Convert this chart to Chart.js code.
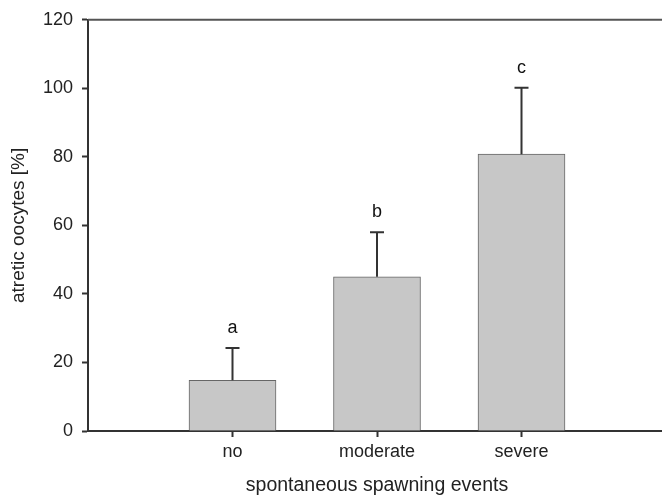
<!DOCTYPE html>
<html>
<head>
<meta charset="utf-8">
<script src="https://cdn.jsdelivr.net/npm/chart.js@4"></script>
<style>
html, body { margin: 0; padding: 0; background: #fff; overflow: hidden; }
#wrap { width: 662px; height: 498px; overflow: hidden; }
#chart { width: 666px; height: 498px; }
</style>
</head>
<body>
<div id="wrap"><canvas id="chart" width="666" height="498"></canvas></div>
<script>
const categories = ['no', 'moderate', 'severe'];
const means = [14.8, 45.0, 80.8];
const upperErrors = [24.2, 58.0, 100.2];
const letters = ['a', 'b', 'c'];
const yMax = 120;
const yStep = 20;

const FONT = 'Arial, "Liberation Sans", sans-serif';

// upper error bars and significance letters
const errorBarPlugin = {
  id: 'errorBars',
  afterDatasetsDraw(chart) {
    const ctx = chart.ctx;
    const x = chart.scales.x;
    const y = chart.scales.y;
    ctx.save();
    ctx.strokeStyle = '#333';
    ctx.lineWidth = 2;
    categories.forEach((c, i) => {
      const px = x.getPixelForValue(i + 1);
      const top = y.getPixelForValue(means[i]);
      const up = y.getPixelForValue(upperErrors[i]);
      ctx.beginPath();
      ctx.moveTo(px, top);
      ctx.lineTo(px, up);
      ctx.moveTo(px - 7, up);
      ctx.lineTo(px + 7, up);
      ctx.stroke();
      ctx.fillStyle = '#111';
      ctx.font = '18px ' + FONT;
      ctx.textAlign = 'center';
      ctx.textBaseline = 'middle';
      ctx.fillText(letters[i], px, up - 20);
    });
    // top frame line
    const a = chart.chartArea;
    ctx.strokeStyle = '#555';
    ctx.beginPath();
    ctx.moveTo(a.left, a.top);
    ctx.lineTo(a.right, a.top);
    ctx.stroke();
    ctx.restore();
  }
};

new Chart(document.getElementById('chart').getContext('2d'), {
  type: 'bar',
  data: {
    datasets: [{
      data: means.map((v, i) => ({ x: i + 1, y: v })),
      backgroundColor: '#c7c7c7',
      borderColor: '#666',
      borderWidth: 1,
      barThickness: 87
    }]
  },
  options: {
    responsive: false,
    animation: false,
    layout: { padding: { top: 15, right: 0, left: 0, bottom: 0 } },
    plugins: { legend: { display: false }, tooltip: { enabled: false } },
    scales: {
      x: {
        type: 'linear',
        min: 0,
        max: 4,
        offset: false,
        afterFit: s => { s.height = 67; },
        afterBuildTicks: s => { s.ticks = categories.map((c, i) => ({ value: i + 1 })); },
        ticks: {
          color: '#222',
          padding: 4,
          font: { size: 18, family: FONT },
          callback: v => categories[v - 1] || ''
        },
        grid: {
          offset: false,
          drawOnChartArea: false,
          tickLength: 6,
          tickWidth: 2,
          tickColor: '#333'
        },
        border: { color: '#333', width: 2 },
        title: {
          display: true,
          text: 'spontaneous spawning events',
          color: '#222',
          font: { size: 19.5, family: FONT },
          padding: { top: 0, bottom: 1 }
        }
      },
      y: {
        min: 0,
        max: yMax,
        afterFit: s => { s.width = 88; },
        ticks: {
          stepSize: yStep,
          color: '#222',
          padding: 9,
          font: { size: 18, family: FONT }
        },
        grid: {
          drawOnChartArea: false,
          tickLength: 6,
          tickWidth: 2,
          tickColor: '#333'
        },
        border: { color: '#333', width: 2 },
        title: {
          display: true,
          text: 'atretic oocytes [%]',
          color: '#222',
          font: { size: 19, family: FONT },
          padding: { top: 7, bottom: 0 }
        }
      }
    }
  },
  plugins: [errorBarPlugin]
});
</script>
</body>
</html>
